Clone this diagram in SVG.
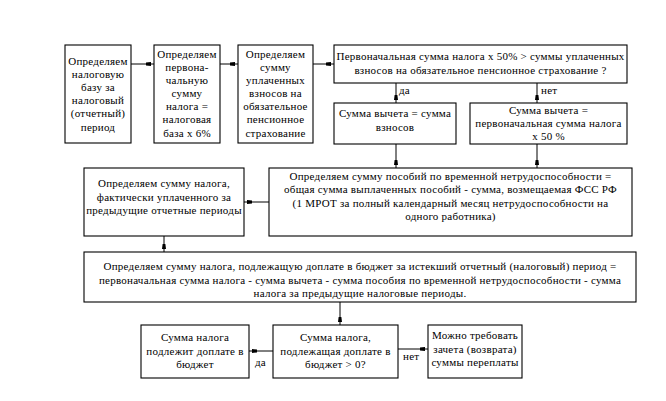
<svg xmlns="http://www.w3.org/2000/svg" width="666" height="401" viewBox="0 0 666 401">
<defs>
<style>
.b{fill:#fff;stroke:#000;stroke-width:1.1}
.t{font-family:"Liberation Serif","Times New Roman",serif;font-size:11px;fill:#000;text-anchor:middle;letter-spacing:0.25px}
.l{font-family:"Liberation Serif","Times New Roman",serif;font-size:11px;fill:#000;letter-spacing:0.25px}
.c{stroke:#000;stroke-width:1;fill:none}
.a{marker-end:url(#m)}
</style>
<marker id="m" viewBox="0 0 8 4" refX="8" refY="2" markerWidth="8" markerHeight="4" markerUnits="userSpaceOnUse" orient="auto">
<path d="M0,0.6 L5,0 L5,4 L0,3.4 z" fill="#000"/>
</marker>
</defs>
<rect width="666" height="401" fill="#fff"/>
<g id="connectors">
<line class="c a" x1="131" y1="64" x2="154" y2="64"/>
<line class="c a" x1="220" y1="64" x2="238" y2="64"/>
<line class="c a" x1="313" y1="64" x2="334" y2="64"/>
<line class="c a" x1="396" y1="83" x2="396" y2="103"/>
<line class="c a" x1="537" y1="83" x2="537" y2="103"/>
<line class="c a" x1="396" y1="144" x2="396" y2="168"/>
<line class="c a" x1="537" y1="144" x2="537" y2="168"/>
<line class="c a" x1="269" y1="202" x2="244" y2="202"/>
<line class="c a" x1="164" y1="236" x2="164" y2="252"/>
<line class="c a" x1="340" y1="302" x2="340" y2="325"/>
<line class="c a" x1="273" y1="351" x2="249" y2="351"/>
<line class="c a" x1="398" y1="349" x2="428" y2="349"/>
<text class="l" x="399" y="94">да</text>
<text class="l" x="541" y="94">нет</text>
<text class="l" x="255" y="366">да</text>
<text class="l" x="403" y="360">нет</text>
</g>
<g id="n1">
<rect class="b" x="65" y="45" width="66" height="98"/>
<text class="t" x="98" y="65">Определяем</text>
<text class="t" x="98" y="78">налоговую</text>
<text class="t" x="98" y="91">базу за</text>
<text class="t" x="98" y="104">налоговый</text>
<text class="t" x="98" y="117">(отчетный)</text>
<text class="t" x="98" y="131">период</text>
</g>
<g id="n2">
<rect class="b" x="154" y="45" width="66" height="98"/>
<text class="t" x="187" y="58">Определяем</text>
<text class="t" x="187" y="71">первона-</text>
<text class="t" x="187" y="84">чальную</text>
<text class="t" x="187" y="97">сумму</text>
<text class="t" x="187" y="110">налога =</text>
<text class="t" x="187" y="123">налоговая</text>
<text class="t" x="187" y="137">база х 6%</text>
</g>
<g id="n3">
<rect class="b" x="238" y="45" width="75" height="98"/>
<text class="t" x="275.5" y="58">Определяем</text>
<text class="t" x="275.5" y="71">сумму</text>
<text class="t" x="275.5" y="84">уплаченных</text>
<text class="t" x="275.5" y="97">взносов на</text>
<text class="t" x="275.5" y="110">обязательное</text>
<text class="t" x="275.5" y="123">пенсионное</text>
<text class="t" x="275.5" y="137">страхование</text>
</g>
<g id="n4">
<rect class="b" x="334" y="45" width="293" height="38"/>
<text class="t" x="480.5" y="60">Первоначальная сумма налога х 50%  &gt; суммы уплаченных</text>
<text class="t" x="480.5" y="74">взносов на обязательное пенсионное страхование ?</text>
</g>
<g id="n5">
<rect class="b" x="334" y="103" width="122" height="41"/>
<text class="t" x="395" y="117">Сумма вычета = сумма</text>
<text class="t" x="395" y="131">взносов</text>
</g>
<g id="n6">
<rect class="b" x="470" y="103" width="157" height="41"/>
<text class="t" x="548.5" y="114">Сумма вычета =</text>
<text class="t" x="548.5" y="127">первоначальная сумма налога</text>
<text class="t" x="548.5" y="140">х 50 %</text>
</g>
<g id="n7">
<rect class="b" x="269" y="168" width="363" height="68"/>
<text class="t" x="450.5" y="180">Определяем сумму пособий по временной нетрудоспособности =</text>
<text class="t" x="450.5" y="193">общая сумма выплаченных пособий - сумма, возмещаемая ФСС РФ</text>
<text class="t" x="450.5" y="207">(1 МРОТ за полный календарный месяц нетрудоспособности на</text>
<text class="t" x="450.5" y="220">одного работника)</text>
</g>
<g id="n8">
<rect class="b" x="84" y="168" width="160" height="68"/>
<text class="t" x="164" y="187">Определяем сумму налога,</text>
<text class="t" x="164" y="201">фактически уплаченного за</text>
<text class="t" x="164" y="214">предыдущие отчетные периоды</text>
</g>
<g id="n9">
<rect class="b" x="84" y="252" width="552" height="50"/>
<text class="t" x="360" y="270">Определяем сумму налога, подлежащую доплате в бюджет за истекший отчетный (налоговый) период =</text>
<text class="t" x="360" y="284">первоначальная сумма налога - сумма вычета - сумма пособия по временной нетрудоспособности - сумма</text>
<text class="t" x="360" y="297">налога за предыдущие налоговые периоды.</text>
</g>
<g id="n10">
<rect class="b" x="273" y="325" width="125" height="53"/>
<text class="t" x="335.5" y="341">Сумма налога,</text>
<text class="t" x="335.5" y="355">подлежащая доплате в</text>
<text class="t" x="335.5" y="368">бюджет &gt; 0?</text>
</g>
<g id="n11">
<rect class="b" x="141" y="325" width="108" height="53"/>
<text class="t" x="195" y="341">Сумма налога</text>
<text class="t" x="195" y="355">подлежит доплате в</text>
<text class="t" x="195" y="368">бюджет</text>
</g>
<g id="n12">
<rect class="b" x="428" y="325" width="94" height="53"/>
<text class="t" x="475" y="339">Можно требовать</text>
<text class="t" x="475" y="353">зачета (возврата)</text>
<text class="t" x="475" y="366">суммы переплаты</text>
</g>
</svg>
